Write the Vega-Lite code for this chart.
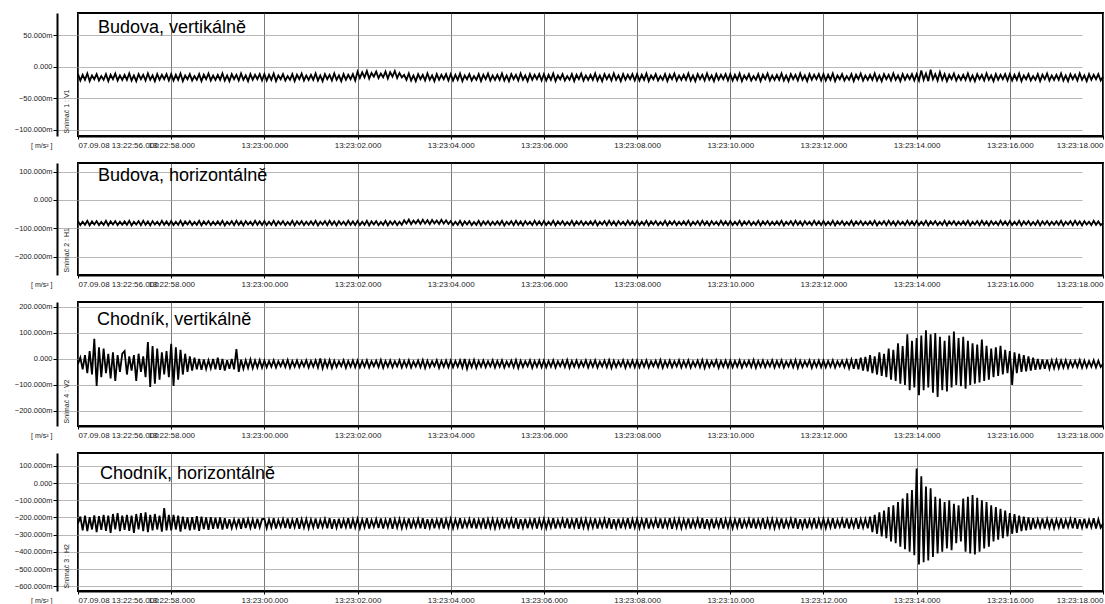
{
"$schema": "https://vega.github.io/schema/vega-lite/v6.json",
"padding": {"left": 13, "top": 12, "right": 2, "bottom": 2},
"background": "white",
"config": {
  "view": {"stroke": "#000", "strokeWidth": 2},
  "font": "Liberation Sans",
  "concat": {"spacing": 12},
  "axis": {"labelFont": "Liberation Sans", "labelColor": "#222", "titleFont": "Liberation Sans", "titleFontSize": 7, "titleFontWeight": "normal", "titleColor": "#222", "tickColor": "#000", "domainColor": "#000", "domainWidth": 2},
  "axisX": {"labelFontSize": 8, "labelOverlap": false, "labelFlush": true, "grid": true, "gridColor": "#555", "gridWidth": 0.8, "tickSize": 3, "labelPadding": 2, "tickCount": 30},
  "axisY": {"labelFontSize": 7.5, "labelOverlap": false, "grid": true, "gridColor": "#999", "gridWidth": 0.7, "tickSize": 4, "labelPadding": 1, "offset": 21, "tickCount": 20}
},
"data": {"values": [
{"t":0,"a":-12,"b":-75,"c":-19,"d":-235},
{"t":0.05,"a":-22,"b":-89,"c":5,"d":-195},
{"t":0.1,"a":-13,"b":-77,"c":-40,"d":-275},
{"t":0.15,"a":-21,"b":-88,"c":15,"d":-190},
{"t":0.2,"a":-11,"b":-74,"c":-55,"d":-280},
{"t":0.25,"a":-23,"b":-90,"c":30,"d":-198},
{"t":0.3,"a":-14,"b":-76,"c":-60,"d":-270},
{"t":0.35,"a":-20,"b":-87,"c":77,"d":-188},
{"t":0.4,"a":-12,"b":-75,"c":-104,"d":-285},
{"t":0.45,"a":-22,"b":-89,"c":45,"d":-192},
{"t":0.5,"a":-15,"b":-78,"c":-70,"d":-272},
{"t":0.55,"a":-21,"b":-88,"c":40,"d":-185},
{"t":0.6,"a":-12,"b":-74,"c":-55,"d":-278},
{"t":0.65,"a":-23,"b":-90,"c":20,"d":-190},
{"t":0.7,"a":-13,"b":-76,"c":-75,"d":-290},
{"t":0.75,"a":-20,"b":-87,"c":25,"d":-180},
{"t":0.8,"a":-11,"b":-75,"c":-85,"d":-270},
{"t":0.85,"a":-22,"b":-89,"c":15,"d":-175},
{"t":0.9,"a":-14,"b":-77,"c":-50,"d":-280},
{"t":0.95,"a":-21,"b":-88,"c":20,"d":-190},
{"t":1,"a":-13,"b":-76,"c":30,"d":-272},
{"t":1.05,"a":-21,"b":-88,"c":-60,"d":-185},
{"t":1.1,"a":-11,"b":-74,"c":10,"d":-278},
{"t":1.15,"a":-22,"b":-90,"c":-45,"d":-190},
{"t":1.2,"a":-14,"b":-77,"c":15,"d":-290},
{"t":1.25,"a":-23,"b":-87,"c":-85,"d":-180},
{"t":1.3,"a":-12,"b":-75,"c":20,"d":-270},
{"t":1.35,"a":-20,"b":-89,"c":-50,"d":-175},
{"t":1.4,"a":-13,"b":-74,"c":10,"d":-280},
{"t":1.45,"a":-22,"b":-88,"c":-70,"d":-170},
{"t":1.5,"a":-11,"b":-76,"c":65,"d":-285},
{"t":1.55,"a":-21,"b":-90,"c":-108,"d":-185},
{"t":1.6,"a":-14,"b":-75,"c":50,"d":-275},
{"t":1.65,"a":-23,"b":-87,"c":-95,"d":-180},
{"t":1.7,"a":-12,"b":-77,"c":40,"d":-270},
{"t":1.75,"a":-21,"b":-89,"c":-80,"d":-190},
{"t":1.8,"a":-13,"b":-74,"c":25,"d":-282},
{"t":1.85,"a":-20,"b":-88,"c":-60,"d":-145},
{"t":1.9,"a":-12,"b":-76,"c":30,"d":-275},
{"t":1.95,"a":-22,"b":-89,"c":-70,"d":-185},
{"t":2,"a":-12,"b":-75,"c":58,"d":-275},
{"t":2.05,"a":-22,"b":-89,"c":-104,"d":-185},
{"t":2.1,"a":-13,"b":-77,"c":45,"d":-270},
{"t":2.15,"a":-21,"b":-88,"c":-80,"d":-190},
{"t":2.2,"a":-11,"b":-74,"c":35,"d":-282},
{"t":2.25,"a":-23,"b":-90,"c":-60,"d":-195},
{"t":2.3,"a":-14,"b":-76,"c":20,"d":-268},
{"t":2.35,"a":-20,"b":-87,"c":-50,"d":-200},
{"t":2.4,"a":-12,"b":-75,"c":10,"d":-275},
{"t":2.45,"a":-22,"b":-89,"c":-45,"d":-198},
{"t":2.5,"a":-15,"b":-78,"c":5,"d":-270},
{"t":2.55,"a":-21,"b":-88,"c":-40,"d":-192},
{"t":2.6,"a":-12,"b":-74,"c":0,"d":-278},
{"t":2.65,"a":-23,"b":-90,"c":-42,"d":-195},
{"t":2.7,"a":-13,"b":-76,"c":-2,"d":-268},
{"t":2.75,"a":-20,"b":-87,"c":-38,"d":-200},
{"t":2.8,"a":-11,"b":-75,"c":-5,"d":-272},
{"t":2.85,"a":-22,"b":-89,"c":-36,"d":-198},
{"t":2.9,"a":-14,"b":-77,"c":0,"d":-266},
{"t":2.95,"a":-21,"b":-88,"c":-40,"d":-202},
{"t":3,"a":-13,"b":-76,"c":5,"d":-265},
{"t":3.05,"a":-21,"b":-88,"c":-42,"d":-200},
{"t":3.1,"a":-11,"b":-74,"c":0,"d":-270},
{"t":3.15,"a":-22,"b":-90,"c":-45,"d":-205},
{"t":3.2,"a":-14,"b":-77,"c":-5,"d":-265},
{"t":3.25,"a":-23,"b":-87,"c":-38,"d":-210},
{"t":3.3,"a":-12,"b":-75,"c":0,"d":-262},
{"t":3.35,"a":-20,"b":-89,"c":-40,"d":-212},
{"t":3.4,"a":-13,"b":-74,"c":38,"d":-258},
{"t":3.45,"a":-22,"b":-88,"c":-50,"d":-208},
{"t":3.5,"a":-11,"b":-76,"c":-3,"d":-266},
{"t":3.55,"a":-21,"b":-90,"c":-38,"d":-205},
{"t":3.6,"a":-14,"b":-75,"c":-5,"d":-262},
{"t":3.65,"a":-23,"b":-87,"c":-35,"d":-210},
{"t":3.7,"a":-12,"b":-77,"c":-2,"d":-260},
{"t":3.75,"a":-21,"b":-89,"c":-36,"d":-212},
{"t":3.8,"a":-13,"b":-74,"c":-6,"d":-264},
{"t":3.85,"a":-20,"b":-88,"c":-33,"d":-207},
{"t":3.9,"a":-12,"b":-76,"c":-4,"d":-258},
{"t":3.95,"a":-22,"b":-89,"c":-34,"d":-210},
{"t":4,"a":-12,"b":-75,"c":-6,"d":-208},
{"t":4.05,"a":-22,"b":-89,"c":-32,"d":-262},
{"t":4.1,"a":-13,"b":-77,"c":-8,"d":-212},
{"t":4.15,"a":-21,"b":-88,"c":-30,"d":-258},
{"t":4.2,"a":-11,"b":-74,"c":-5,"d":-205},
{"t":4.25,"a":-23,"b":-90,"c":-33,"d":-265},
{"t":4.3,"a":-14,"b":-76,"c":-9,"d":-215},
{"t":4.35,"a":-20,"b":-87,"c":-28,"d":-255},
{"t":4.4,"a":-12,"b":-75,"c":-7,"d":-210},
{"t":4.45,"a":-22,"b":-89,"c":-31,"d":-262},
{"t":4.5,"a":-15,"b":-78,"c":-4,"d":-206},
{"t":4.55,"a":-21,"b":-88,"c":-34,"d":-264},
{"t":4.6,"a":-12,"b":-74,"c":-8,"d":-213},
{"t":4.65,"a":-23,"b":-90,"c":-30,"d":-257},
{"t":4.7,"a":-13,"b":-76,"c":-6,"d":-204},
{"t":4.75,"a":-20,"b":-87,"c":-32,"d":-266},
{"t":4.8,"a":-11,"b":-75,"c":-9,"d":-211},
{"t":4.85,"a":-22,"b":-89,"c":-29,"d":-259},
{"t":4.9,"a":-14,"b":-77,"c":-5,"d":-209},
{"t":4.95,"a":-21,"b":-88,"c":-33,"d":-263},
{"t":5,"a":-13,"b":-76,"c":-8,"d":-212},
{"t":5.05,"a":-21,"b":-88,"c":-30,"d":-258},
{"t":5.1,"a":-11,"b":-74,"c":-5,"d":-206},
{"t":5.15,"a":-22,"b":-90,"c":-33,"d":-264},
{"t":5.2,"a":-14,"b":-77,"c":2,"d":-214},
{"t":5.25,"a":-23,"b":-87,"c":-36,"d":-256},
{"t":5.3,"a":-12,"b":-75,"c":-6,"d":-209},
{"t":5.35,"a":-20,"b":-89,"c":-32,"d":-263},
{"t":5.4,"a":-13,"b":-74,"c":-4,"d":-204},
{"t":5.45,"a":-22,"b":-88,"c":-35,"d":-266},
{"t":5.5,"a":-11,"b":-76,"c":-7,"d":-210},
{"t":5.55,"a":-21,"b":-90,"c":-31,"d":-260},
{"t":5.6,"a":-14,"b":-75,"c":-9,"d":-207},
{"t":5.65,"a":-23,"b":-87,"c":-28,"d":-263},
{"t":5.7,"a":-12,"b":-77,"c":-5,"d":-213},
{"t":5.75,"a":-21,"b":-89,"c":-34,"d":-257},
{"t":5.8,"a":-13,"b":-74,"c":-8,"d":-205},
{"t":5.85,"a":-20,"b":-88,"c":-30,"d":-265},
{"t":5.9,"a":-12,"b":-76,"c":-6,"d":-211},
{"t":5.95,"a":-22,"b":-89,"c":-32,"d":-259},
{"t":6,"a":-8,"b":-75,"c":-6,"d":-208},
{"t":6.05,"a":-18,"b":-89,"c":-32,"d":-262},
{"t":6.1,"a":-9,"b":-77,"c":-8,"d":-212},
{"t":6.15,"a":-17,"b":-88,"c":-30,"d":-258},
{"t":6.2,"a":-7,"b":-74,"c":-5,"d":-205},
{"t":6.25,"a":-19,"b":-90,"c":-33,"d":-265},
{"t":6.3,"a":-10,"b":-76,"c":-9,"d":-215},
{"t":6.35,"a":-16,"b":-87,"c":-28,"d":-255},
{"t":6.4,"a":-8,"b":-75,"c":-7,"d":-210},
{"t":6.45,"a":-18,"b":-89,"c":-31,"d":-262},
{"t":6.5,"a":-11,"b":-78,"c":-4,"d":-206},
{"t":6.55,"a":-17,"b":-88,"c":-34,"d":-264},
{"t":6.6,"a":-8,"b":-74,"c":-8,"d":-213},
{"t":6.65,"a":-19,"b":-90,"c":-30,"d":-257},
{"t":6.7,"a":-9,"b":-76,"c":-6,"d":-204},
{"t":6.75,"a":-16,"b":-87,"c":-32,"d":-266},
{"t":6.8,"a":-7,"b":-75,"c":-9,"d":-211},
{"t":6.85,"a":-18,"b":-89,"c":-29,"d":-259},
{"t":6.9,"a":-10,"b":-77,"c":-5,"d":-209},
{"t":6.95,"a":-17,"b":-88,"c":-33,"d":-263},
{"t":7,"a":-13,"b":-72,"c":-8,"d":-212},
{"t":7.05,"a":-21,"b":-84,"c":-30,"d":-258},
{"t":7.1,"a":-11,"b":-70,"c":-5,"d":-206},
{"t":7.15,"a":-22,"b":-86,"c":-33,"d":-264},
{"t":7.2,"a":-14,"b":-73,"c":-10,"d":-214},
{"t":7.25,"a":-23,"b":-83,"c":-29,"d":-256},
{"t":7.3,"a":-12,"b":-71,"c":-6,"d":-209},
{"t":7.35,"a":-20,"b":-85,"c":-32,"d":-263},
{"t":7.4,"a":-13,"b":-70,"c":-4,"d":-204},
{"t":7.45,"a":-22,"b":-84,"c":-35,"d":-266},
{"t":7.5,"a":-11,"b":-72,"c":-7,"d":-210},
{"t":7.55,"a":-21,"b":-86,"c":-31,"d":-260},
{"t":7.6,"a":-14,"b":-71,"c":-9,"d":-207},
{"t":7.65,"a":-23,"b":-83,"c":-28,"d":-263},
{"t":7.7,"a":-12,"b":-73,"c":-5,"d":-213},
{"t":7.75,"a":-21,"b":-85,"c":-34,"d":-257},
{"t":7.8,"a":-13,"b":-70,"c":-8,"d":-205},
{"t":7.85,"a":-20,"b":-84,"c":-30,"d":-265},
{"t":7.9,"a":-12,"b":-72,"c":-6,"d":-211},
{"t":7.95,"a":-22,"b":-85,"c":-32,"d":-259},
{"t":8,"a":-12,"b":-75,"c":-6,"d":-208},
{"t":8.05,"a":-22,"b":-89,"c":-32,"d":-262},
{"t":8.1,"a":-13,"b":-77,"c":-8,"d":-212},
{"t":8.15,"a":-21,"b":-88,"c":-30,"d":-258},
{"t":8.2,"a":-11,"b":-74,"c":-5,"d":-205},
{"t":8.25,"a":-23,"b":-90,"c":-33,"d":-265},
{"t":8.3,"a":-14,"b":-76,"c":0,"d":-215},
{"t":8.35,"a":-20,"b":-87,"c":-38,"d":-255},
{"t":8.4,"a":-12,"b":-75,"c":-7,"d":-210},
{"t":8.45,"a":-22,"b":-89,"c":-31,"d":-262},
{"t":8.5,"a":-15,"b":-78,"c":-4,"d":-206},
{"t":8.55,"a":-21,"b":-88,"c":-34,"d":-264},
{"t":8.6,"a":-12,"b":-74,"c":-8,"d":-213},
{"t":8.65,"a":-23,"b":-90,"c":-30,"d":-257},
{"t":8.7,"a":-13,"b":-76,"c":-6,"d":-204},
{"t":8.75,"a":-20,"b":-87,"c":-32,"d":-266},
{"t":8.8,"a":-11,"b":-75,"c":-9,"d":-211},
{"t":8.85,"a":-22,"b":-89,"c":-29,"d":-259},
{"t":8.9,"a":-14,"b":-77,"c":-5,"d":-209},
{"t":8.95,"a":-21,"b":-88,"c":-33,"d":-263},
{"t":9,"a":-13,"b":-76,"c":-8,"d":-212},
{"t":9.05,"a":-21,"b":-88,"c":-30,"d":-258},
{"t":9.1,"a":-11,"b":-74,"c":-5,"d":-206},
{"t":9.15,"a":-22,"b":-90,"c":-33,"d":-264},
{"t":9.2,"a":-14,"b":-77,"c":-10,"d":-214},
{"t":9.25,"a":-23,"b":-87,"c":-29,"d":-256},
{"t":9.3,"a":-12,"b":-75,"c":-6,"d":-209},
{"t":9.35,"a":-20,"b":-89,"c":-32,"d":-263},
{"t":9.4,"a":-13,"b":-74,"c":-4,"d":-204},
{"t":9.45,"a":-22,"b":-88,"c":-35,"d":-266},
{"t":9.5,"a":-11,"b":-76,"c":-7,"d":-210},
{"t":9.55,"a":-21,"b":-90,"c":-31,"d":-260},
{"t":9.6,"a":-14,"b":-75,"c":-9,"d":-207},
{"t":9.65,"a":-23,"b":-87,"c":-28,"d":-263},
{"t":9.7,"a":-12,"b":-77,"c":-5,"d":-213},
{"t":9.75,"a":-21,"b":-89,"c":-34,"d":-257},
{"t":9.8,"a":-13,"b":-74,"c":-8,"d":-205},
{"t":9.85,"a":-20,"b":-88,"c":-30,"d":-265},
{"t":9.9,"a":-12,"b":-76,"c":-6,"d":-211},
{"t":9.95,"a":-22,"b":-89,"c":-32,"d":-259},
{"t":10,"a":-12,"b":-75,"c":-6,"d":-208},
{"t":10.05,"a":-22,"b":-89,"c":-32,"d":-262},
{"t":10.1,"a":-13,"b":-77,"c":-8,"d":-212},
{"t":10.15,"a":-21,"b":-88,"c":-30,"d":-258},
{"t":10.2,"a":-11,"b":-74,"c":-5,"d":-205},
{"t":10.25,"a":-23,"b":-90,"c":-33,"d":-265},
{"t":10.3,"a":-14,"b":-76,"c":-9,"d":-215},
{"t":10.35,"a":-20,"b":-87,"c":-28,"d":-255},
{"t":10.4,"a":-12,"b":-75,"c":-7,"d":-210},
{"t":10.45,"a":-22,"b":-89,"c":-31,"d":-262},
{"t":10.5,"a":-15,"b":-78,"c":-4,"d":-206},
{"t":10.55,"a":-21,"b":-88,"c":-34,"d":-264},
{"t":10.6,"a":-12,"b":-74,"c":-8,"d":-213},
{"t":10.65,"a":-23,"b":-90,"c":-30,"d":-257},
{"t":10.7,"a":-13,"b":-76,"c":-6,"d":-204},
{"t":10.75,"a":-20,"b":-87,"c":-32,"d":-266},
{"t":10.8,"a":-11,"b":-75,"c":-9,"d":-211},
{"t":10.85,"a":-22,"b":-89,"c":-29,"d":-259},
{"t":10.9,"a":-14,"b":-77,"c":-5,"d":-209},
{"t":10.95,"a":-21,"b":-88,"c":-33,"d":-263},
{"t":11,"a":-13,"b":-76,"c":-8,"d":-212},
{"t":11.05,"a":-21,"b":-88,"c":-30,"d":-258},
{"t":11.1,"a":-11,"b":-74,"c":-5,"d":-206},
{"t":11.15,"a":-22,"b":-90,"c":-33,"d":-264},
{"t":11.2,"a":-14,"b":-77,"c":-10,"d":-214},
{"t":11.25,"a":-23,"b":-87,"c":-29,"d":-256},
{"t":11.3,"a":-12,"b":-75,"c":-6,"d":-209},
{"t":11.35,"a":-20,"b":-89,"c":-32,"d":-263},
{"t":11.4,"a":-13,"b":-74,"c":-4,"d":-204},
{"t":11.45,"a":-22,"b":-88,"c":-35,"d":-266},
{"t":11.5,"a":-11,"b":-76,"c":-7,"d":-210},
{"t":11.55,"a":-21,"b":-90,"c":-31,"d":-260},
{"t":11.6,"a":-14,"b":-75,"c":-9,"d":-207},
{"t":11.65,"a":-23,"b":-87,"c":-28,"d":-263},
{"t":11.7,"a":-12,"b":-77,"c":-5,"d":-213},
{"t":11.75,"a":-21,"b":-89,"c":-34,"d":-257},
{"t":11.8,"a":-13,"b":-74,"c":-8,"d":-205},
{"t":11.85,"a":-20,"b":-88,"c":-30,"d":-265},
{"t":11.9,"a":-12,"b":-76,"c":-6,"d":-211},
{"t":11.95,"a":-22,"b":-89,"c":-32,"d":-259},
{"t":12,"a":-12,"b":-75,"c":-6,"d":-208},
{"t":12.05,"a":-22,"b":-89,"c":-32,"d":-262},
{"t":12.1,"a":-13,"b":-77,"c":-8,"d":-212},
{"t":12.15,"a":-21,"b":-88,"c":-30,"d":-258},
{"t":12.2,"a":-11,"b":-74,"c":-5,"d":-205},
{"t":12.25,"a":-23,"b":-90,"c":-33,"d":-265},
{"t":12.3,"a":-14,"b":-76,"c":-9,"d":-215},
{"t":12.35,"a":-20,"b":-87,"c":-28,"d":-255},
{"t":12.4,"a":-12,"b":-75,"c":-7,"d":-210},
{"t":12.45,"a":-22,"b":-89,"c":-31,"d":-262},
{"t":12.5,"a":-15,"b":-78,"c":-4,"d":-206},
{"t":12.55,"a":-21,"b":-88,"c":-34,"d":-264},
{"t":12.6,"a":-12,"b":-74,"c":-8,"d":-213},
{"t":12.65,"a":-23,"b":-90,"c":-30,"d":-257},
{"t":12.7,"a":-13,"b":-76,"c":-6,"d":-204},
{"t":12.75,"a":-20,"b":-87,"c":-32,"d":-266},
{"t":12.8,"a":-11,"b":-75,"c":-9,"d":-211},
{"t":12.85,"a":-22,"b":-89,"c":-29,"d":-259},
{"t":12.9,"a":-14,"b":-77,"c":-5,"d":-209},
{"t":12.95,"a":-21,"b":-88,"c":-33,"d":-263},
{"t":13,"a":-13,"b":-76,"c":-8,"d":-212},
{"t":13.05,"a":-21,"b":-88,"c":-30,"d":-258},
{"t":13.1,"a":-11,"b":-74,"c":-5,"d":-206},
{"t":13.15,"a":-22,"b":-90,"c":-33,"d":-264},
{"t":13.2,"a":-14,"b":-77,"c":-10,"d":-214},
{"t":13.25,"a":-23,"b":-87,"c":-29,"d":-256},
{"t":13.3,"a":-12,"b":-75,"c":-6,"d":-209},
{"t":13.35,"a":-20,"b":-89,"c":-32,"d":-263},
{"t":13.4,"a":-13,"b":-74,"c":-4,"d":-204},
{"t":13.45,"a":-22,"b":-88,"c":-35,"d":-266},
{"t":13.5,"a":-11,"b":-76,"c":-7,"d":-210},
{"t":13.55,"a":-21,"b":-90,"c":-31,"d":-260},
{"t":13.6,"a":-14,"b":-75,"c":-9,"d":-207},
{"t":13.65,"a":-23,"b":-87,"c":-28,"d":-263},
{"t":13.7,"a":-12,"b":-77,"c":-5,"d":-213},
{"t":13.75,"a":-21,"b":-89,"c":-34,"d":-257},
{"t":13.8,"a":-13,"b":-74,"c":-8,"d":-205},
{"t":13.85,"a":-20,"b":-88,"c":-30,"d":-265},
{"t":13.9,"a":-12,"b":-76,"c":-6,"d":-211},
{"t":13.95,"a":-22,"b":-89,"c":-32,"d":-259},
{"t":14,"a":-12,"b":-75,"c":-6,"d":-208},
{"t":14.05,"a":-22,"b":-89,"c":-32,"d":-262},
{"t":14.1,"a":-13,"b":-77,"c":-8,"d":-212},
{"t":14.15,"a":-21,"b":-88,"c":-30,"d":-258},
{"t":14.2,"a":-11,"b":-74,"c":-5,"d":-205},
{"t":14.25,"a":-23,"b":-90,"c":-33,"d":-265},
{"t":14.3,"a":-14,"b":-76,"c":-9,"d":-215},
{"t":14.35,"a":-20,"b":-87,"c":-28,"d":-255},
{"t":14.4,"a":-12,"b":-75,"c":-7,"d":-210},
{"t":14.45,"a":-22,"b":-89,"c":-31,"d":-262},
{"t":14.5,"a":-15,"b":-78,"c":-4,"d":-206},
{"t":14.55,"a":-21,"b":-88,"c":-34,"d":-264},
{"t":14.6,"a":-12,"b":-74,"c":-8,"d":-213},
{"t":14.65,"a":-23,"b":-90,"c":-30,"d":-257},
{"t":14.7,"a":-13,"b":-76,"c":-6,"d":-204},
{"t":14.75,"a":-20,"b":-87,"c":-32,"d":-266},
{"t":14.8,"a":-11,"b":-75,"c":-9,"d":-211},
{"t":14.85,"a":-22,"b":-89,"c":-29,"d":-259},
{"t":14.9,"a":-14,"b":-77,"c":-5,"d":-209},
{"t":14.95,"a":-21,"b":-88,"c":-33,"d":-263},
{"t":15,"a":-13,"b":-76,"c":-8,"d":-212},
{"t":15.05,"a":-21,"b":-88,"c":-30,"d":-258},
{"t":15.1,"a":-11,"b":-74,"c":-5,"d":-206},
{"t":15.15,"a":-22,"b":-90,"c":-33,"d":-264},
{"t":15.2,"a":-14,"b":-77,"c":-10,"d":-214},
{"t":15.25,"a":-23,"b":-87,"c":-29,"d":-256},
{"t":15.3,"a":-12,"b":-75,"c":-6,"d":-209},
{"t":15.35,"a":-20,"b":-89,"c":-32,"d":-263},
{"t":15.4,"a":-13,"b":-74,"c":-4,"d":-204},
{"t":15.45,"a":-22,"b":-88,"c":-35,"d":-266},
{"t":15.5,"a":-11,"b":-76,"c":-7,"d":-210},
{"t":15.55,"a":-21,"b":-90,"c":-31,"d":-260},
{"t":15.6,"a":-14,"b":-75,"c":-9,"d":-207},
{"t":15.65,"a":-23,"b":-87,"c":-28,"d":-263},
{"t":15.7,"a":-12,"b":-77,"c":-5,"d":-213},
{"t":15.75,"a":-21,"b":-89,"c":-34,"d":-257},
{"t":15.8,"a":-13,"b":-74,"c":-8,"d":-205},
{"t":15.85,"a":-20,"b":-88,"c":-30,"d":-265},
{"t":15.9,"a":-12,"b":-76,"c":-6,"d":-211},
{"t":15.95,"a":-22,"b":-89,"c":-32,"d":-259},
{"t":16,"a":-12,"b":-75,"c":-6,"d":-208},
{"t":16.05,"a":-22,"b":-89,"c":-32,"d":-262},
{"t":16.1,"a":-13,"b":-77,"c":-8,"d":-212},
{"t":16.15,"a":-21,"b":-88,"c":-30,"d":-258},
{"t":16.2,"a":-11,"b":-74,"c":-5,"d":-205},
{"t":16.25,"a":-23,"b":-90,"c":-33,"d":-265},
{"t":16.3,"a":-14,"b":-76,"c":-9,"d":-215},
{"t":16.35,"a":-20,"b":-87,"c":-28,"d":-255},
{"t":16.4,"a":-12,"b":-75,"c":-7,"d":-210},
{"t":16.45,"a":-22,"b":-89,"c":-31,"d":-262},
{"t":16.5,"a":-15,"b":-78,"c":-5,"d":-206},
{"t":16.55,"a":-21,"b":-88,"c":-36,"d":-264},
{"t":16.6,"a":-12,"b":-74,"c":-3,"d":-213},
{"t":16.65,"a":-23,"b":-90,"c":-38,"d":-257},
{"t":16.7,"a":-13,"b":-76,"c":0,"d":-204},
{"t":16.75,"a":-20,"b":-87,"c":-40,"d":-266},
{"t":16.8,"a":-11,"b":-75,"c":5,"d":-211},
{"t":16.85,"a":-22,"b":-89,"c":-45,"d":-259},
{"t":16.9,"a":-14,"b":-77,"c":8,"d":-209},
{"t":16.95,"a":-21,"b":-88,"c":-48,"d":-263},
{"t":17,"a":-13,"b":-76,"c":15,"d":-195},
{"t":17.05,"a":-21,"b":-88,"c":-55,"d":-285},
{"t":17.1,"a":-11,"b":-74,"c":10,"d":-185},
{"t":17.15,"a":-22,"b":-90,"c":-60,"d":-295},
{"t":17.2,"a":-14,"b":-77,"c":25,"d":-170},
{"t":17.25,"a":-23,"b":-87,"c":-65,"d":-310},
{"t":17.3,"a":-12,"b":-75,"c":20,"d":-160},
{"t":17.35,"a":-20,"b":-89,"c":-70,"d":-320},
{"t":17.4,"a":-13,"b":-74,"c":40,"d":-140},
{"t":17.45,"a":-22,"b":-88,"c":-80,"d":-340},
{"t":17.5,"a":-11,"b":-76,"c":35,"d":-130},
{"t":17.55,"a":-21,"b":-90,"c":-85,"d":-350},
{"t":17.6,"a":-14,"b":-75,"c":60,"d":-110},
{"t":17.65,"a":-23,"b":-87,"c":-95,"d":-370},
{"t":17.7,"a":-12,"b":-77,"c":50,"d":-90},
{"t":17.75,"a":-21,"b":-89,"c":-100,"d":-385},
{"t":17.8,"a":-13,"b":-74,"c":95,"d":-60},
{"t":17.85,"a":-20,"b":-88,"c":-120,"d":-400},
{"t":17.9,"a":-12,"b":-76,"c":70,"d":-40},
{"t":17.95,"a":-22,"b":-89,"c":-110,"d":-420},
{"t":18,"a":-12,"b":-75,"c":80,"d":85},
{"t":18.05,"a":-22,"b":-89,"c":-140,"d":-474},
{"t":18.1,"a":-6,"b":-77,"c":90,"d":40},
{"t":18.15,"a":-21,"b":-88,"c":-120,"d":-460},
{"t":18.2,"a":-11,"b":-74,"c":110,"d":-20},
{"t":18.25,"a":-23,"b":-90,"c":-110,"d":-450},
{"t":18.3,"a":-5,"b":-76,"c":95,"d":-30},
{"t":18.35,"a":-20,"b":-87,"c":-130,"d":-430},
{"t":18.4,"a":-12,"b":-75,"c":100,"d":-80},
{"t":18.45,"a":-22,"b":-89,"c":-146,"d":-410},
{"t":18.5,"a":-9,"b":-78,"c":85,"d":-90},
{"t":18.55,"a":-21,"b":-88,"c":-120,"d":-400},
{"t":18.6,"a":-12,"b":-74,"c":70,"d":-110},
{"t":18.65,"a":-23,"b":-90,"c":-125,"d":-380},
{"t":18.7,"a":-13,"b":-76,"c":90,"d":-100},
{"t":18.75,"a":-20,"b":-87,"c":-110,"d":-390},
{"t":18.8,"a":-11,"b":-75,"c":105,"d":-120},
{"t":18.85,"a":-22,"b":-89,"c":-100,"d":-350},
{"t":18.9,"a":-14,"b":-77,"c":80,"d":-130},
{"t":18.95,"a":-21,"b":-88,"c":-105,"d":-340},
{"t":19,"a":-13,"b":-76,"c":85,"d":-90},
{"t":19.05,"a":-21,"b":-88,"c":-115,"d":-400},
{"t":19.1,"a":-11,"b":-74,"c":70,"d":-80},
{"t":19.15,"a":-22,"b":-90,"c":-100,"d":-410},
{"t":19.2,"a":-14,"b":-77,"c":60,"d":-70},
{"t":19.25,"a":-23,"b":-87,"c":-95,"d":-416},
{"t":19.3,"a":-12,"b":-75,"c":55,"d":-85},
{"t":19.35,"a":-20,"b":-89,"c":-90,"d":-400},
{"t":19.4,"a":-13,"b":-74,"c":75,"d":-100},
{"t":19.45,"a":-22,"b":-88,"c":-85,"d":-380},
{"t":19.5,"a":-11,"b":-76,"c":50,"d":-110},
{"t":19.55,"a":-21,"b":-90,"c":-80,"d":-370},
{"t":19.6,"a":-14,"b":-75,"c":40,"d":-130},
{"t":19.65,"a":-23,"b":-87,"c":-70,"d":-340},
{"t":19.7,"a":-12,"b":-77,"c":45,"d":-140},
{"t":19.75,"a":-21,"b":-89,"c":-65,"d":-330},
{"t":19.8,"a":-13,"b":-74,"c":50,"d":-150},
{"t":19.85,"a":-20,"b":-88,"c":-60,"d":-320},
{"t":19.9,"a":-12,"b":-76,"c":35,"d":-160},
{"t":19.95,"a":-22,"b":-89,"c":-55,"d":-310},
{"t":20,"a":-12,"b":-75,"c":30,"d":-175},
{"t":20.05,"a":-22,"b":-89,"c":-100,"d":-295},
{"t":20.1,"a":-13,"b":-77,"c":25,"d":-180},
{"t":20.15,"a":-21,"b":-88,"c":-55,"d":-290},
{"t":20.2,"a":-11,"b":-74,"c":20,"d":-190},
{"t":20.25,"a":-23,"b":-90,"c":-50,"d":-280},
{"t":20.3,"a":-14,"b":-76,"c":15,"d":-195},
{"t":20.35,"a":-20,"b":-87,"c":-48,"d":-275},
{"t":20.4,"a":-12,"b":-75,"c":10,"d":-200},
{"t":20.45,"a":-22,"b":-89,"c":-45,"d":-270},
{"t":20.5,"a":-15,"b":-78,"c":5,"d":-205},
{"t":20.55,"a":-21,"b":-88,"c":-42,"d":-265},
{"t":20.6,"a":-12,"b":-74,"c":0,"d":-212},
{"t":20.65,"a":-23,"b":-90,"c":-40,"d":-258},
{"t":20.7,"a":-13,"b":-76,"c":-2,"d":-206},
{"t":20.75,"a":-20,"b":-87,"c":-38,"d":-264},
{"t":20.8,"a":-11,"b":-75,"c":-3,"d":-210},
{"t":20.85,"a":-22,"b":-89,"c":-38,"d":-260},
{"t":20.9,"a":-14,"b":-77,"c":-5,"d":-208},
{"t":20.95,"a":-21,"b":-88,"c":-36,"d":-262},
{"t":21,"a":-13,"b":-76,"c":-4,"d":-212},
{"t":21.05,"a":-21,"b":-88,"c":-35,"d":-258},
{"t":21.1,"a":-11,"b":-74,"c":-6,"d":-206},
{"t":21.15,"a":-22,"b":-90,"c":-33,"d":-264},
{"t":21.2,"a":-14,"b":-77,"c":-5,"d":-214},
{"t":21.25,"a":-23,"b":-87,"c":-34,"d":-256},
{"t":21.3,"a":-12,"b":-75,"c":-8,"d":-209},
{"t":21.35,"a":-20,"b":-89,"c":-30,"d":-263},
{"t":21.4,"a":-13,"b":-74,"c":-7,"d":-204},
{"t":21.45,"a":-22,"b":-88,"c":-31,"d":-266},
{"t":21.5,"a":-11,"b":-76,"c":-4,"d":-210},
{"t":21.55,"a":-21,"b":-90,"c":-34,"d":-260},
{"t":21.6,"a":-14,"b":-75,"c":-6,"d":-207},
{"t":21.65,"a":-23,"b":-87,"c":-32,"d":-263},
{"t":21.7,"a":-12,"b":-77,"c":-8,"d":-213},
{"t":21.75,"a":-21,"b":-89,"c":-30,"d":-257},
{"t":21.8,"a":-13,"b":-74,"c":-5,"d":-205},
{"t":21.85,"a":-20,"b":-88,"c":-33,"d":-265},
{"t":21.9,"a":-12,"b":-76,"c":-7,"d":-211},
{"t":21.95,"a":-22,"b":-89,"c":-31,"d":-259},
{"t":22,"a":-16,"b":-82,"c":-19,"d":-235}
]},
"vconcat": [
{
 "width": 1025, "height": 123,
 "layer": [
  {"mark": {"type": "line", "color": "#000", "strokeWidth": 1.8},
   "encoding": {
    "x": {"field": "t", "type": "quantitative", "scale": {"domain": [0, 22], "nice": false}, "axis": {"values": [0,2,4,6,8,10,12,14,16,18,20,22], "labelExpr": "datum.value == 0 ? '07.09.08 13:22:56.000' : (datum.value < 4 ? '13:22:' + (56 + datum.value) : '13:23:' + (datum.value < 14 ? '0' : '') + (datum.value - 4)) + '.000'", "title": "[ m/s² ]", "titleX": -26, "titleY": 5, "titleAlign": "right", "titleBaseline": "top"}},
    "y": {"field": "a", "type": "quantitative", "scale": {"domain": [-110, 85], "nice": false, "zero": false}, "axis": {"values": [50, 0, -50, -100], "tickCount": 20, "labelOverlap": false, "labelExpr": "datum.value == 0 ? '0.000' : format(datum.value, '.3f') + 'm'", "title": "Snímač 1 : V1", "titleAngle": 270, "titleX": 9, "titleY": 120, "titleAlign": "left", "titleBaseline": "middle"}}
   }},
  {"data": {"values": [{"name": "Budova, vertikálně"}]},
   "mark": {"type": "text", "fontSize": 18, "align": "left", "baseline": "alphabetic", "font": "Liberation Sans", "color": "#000"},
   "encoding": {"x": {"datum": 0.43, "type": "quantitative"}, "y": {"datum": 53.9, "type": "quantitative"}, "text": {"field": "name"}}}
 ]
},
{
 "width": 1025, "height": 112,
 "layer": [
  {"mark": {"type": "line", "color": "#000", "strokeWidth": 1.8},
   "encoding": {
    "x": {"field": "t", "type": "quantitative", "scale": {"domain": [0, 22], "nice": false}, "axis": {"values": [0,2,4,6,8,10,12,14,16,18,20,22], "labelExpr": "datum.value == 0 ? '07.09.08 13:22:56.000' : (datum.value < 4 ? '13:22:' + (56 + datum.value) : '13:23:' + (datum.value < 14 ? '0' : '') + (datum.value - 4)) + '.000'", "title": "[ m/s² ]", "titleX": -26, "titleY": 5, "titleAlign": "right", "titleBaseline": "top"}},
    "y": {"field": "b", "type": "quantitative", "scale": {"domain": [-265, 130], "nice": false, "zero": false}, "axis": {"values": [100, 0, -100, -200], "tickCount": 20, "labelOverlap": false, "labelExpr": "datum.value == 0 ? '0.000' : format(datum.value, '.3f') + 'm'", "title": "Snímač 2 : H1", "titleAngle": 270, "titleX": 9, "titleY": 109, "titleAlign": "left", "titleBaseline": "middle"}}
   }},
  {"data": {"values": [{"name": "Budova, horizontálně"}]},
   "mark": {"type": "text", "fontSize": 18, "align": "left", "baseline": "alphabetic", "font": "Liberation Sans", "color": "#000"},
   "encoding": {"x": {"datum": 0.43, "type": "quantitative"}, "y": {"datum": 66, "type": "quantitative"}, "text": {"field": "name"}}}
 ]
},
{
 "width": 1025, "height": 124,
 "layer": [
  {"mark": {"type": "line", "color": "#000", "strokeWidth": 1.8},
   "encoding": {
    "x": {"field": "t", "type": "quantitative", "scale": {"domain": [0, 22], "nice": false}, "axis": {"values": [0,2,4,6,8,10,12,14,16,18,20,22], "labelExpr": "datum.value == 0 ? '07.09.08 13:22:56.000' : (datum.value < 4 ? '13:22:' + (56 + datum.value) : '13:23:' + (datum.value < 14 ? '0' : '') + (datum.value - 4)) + '.000'", "title": "[ m/s² ]", "titleX": -26, "titleY": 5, "titleAlign": "right", "titleBaseline": "top"}},
    "y": {"field": "c", "type": "quantitative", "scale": {"domain": [-258, 219], "nice": false, "zero": false}, "axis": {"values": [200, 100, 0, -100, -200], "tickCount": 20, "labelOverlap": false, "labelExpr": "datum.value == 0 ? '0.000' : format(datum.value, '.3f') + 'm'", "title": "Snímač 4 : V2", "titleAngle": 270, "titleX": 9, "titleY": 121, "titleAlign": "left", "titleBaseline": "middle"}}
   }},
  {"data": {"values": [{"name": "Chodník, vertikálně"}]},
   "mark": {"type": "text", "fontSize": 18, "align": "left", "baseline": "alphabetic", "font": "Liberation Sans", "color": "#000"},
   "encoding": {"x": {"datum": 0.41, "type": "quantitative"}, "y": {"datum": 130, "type": "quantitative"}, "text": {"field": "name"}}}
 ]
},
{
 "width": 1025, "height": 138,
 "layer": [
  {"mark": {"type": "line", "color": "#000", "strokeWidth": 1.8},
   "encoding": {
    "x": {"field": "t", "type": "quantitative", "scale": {"domain": [0, 22], "nice": false}, "axis": {"values": [0,2,4,6,8,10,12,14,16,18,20,22], "labelExpr": "datum.value == 0 ? '07.09.08 13:22:56.000' : (datum.value < 4 ? '13:22:' + (56 + datum.value) : '13:23:' + (datum.value < 14 ? '0' : '') + (datum.value - 4)) + '.000'", "title": "[ m/s² ]", "titleX": -26, "titleY": 5, "titleAlign": "right", "titleBaseline": "top"}},
    "y": {"field": "d", "type": "quantitative", "scale": {"domain": [-628, 175], "nice": false, "zero": false}, "axis": {"values": [100, 0, -100, -200, -300, -400, -500, -600], "tickCount": 20, "labelOverlap": false, "labelExpr": "datum.value == 0 ? '0.000' : format(datum.value, '.3f') + 'm'", "title": "Snímač 3 : H2", "titleAngle": 270, "titleX": 9, "titleY": 135, "titleAlign": "left", "titleBaseline": "middle"}}
   }},
  {"data": {"values": [{"name": "Chodník, horizontálně"}]},
   "mark": {"type": "text", "fontSize": 18, "align": "left", "baseline": "alphabetic", "font": "Liberation Sans", "color": "#000"},
   "encoding": {"x": {"datum": 0.47, "type": "quantitative"}, "y": {"datum": 22, "type": "quantitative"}, "text": {"field": "name"}}}
 ]
}
]
}
